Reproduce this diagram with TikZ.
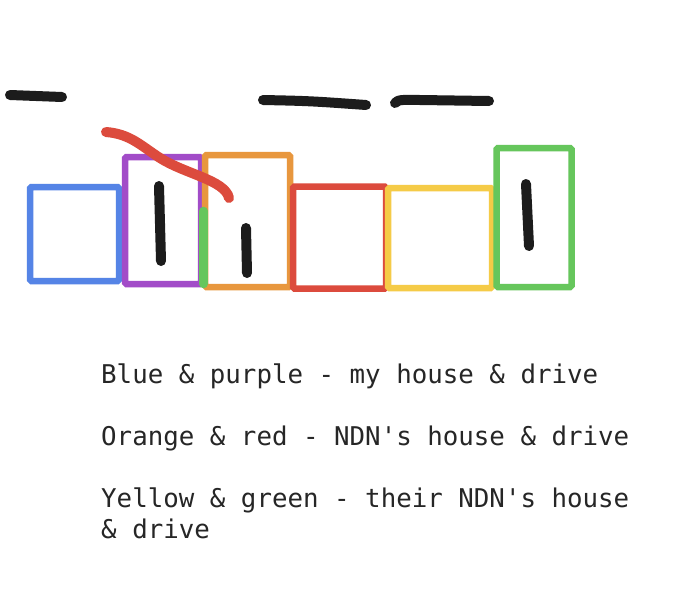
\documentclass[tikz,border=0pt]{standalone}
\usepackage{fontspec}
\setmonofont{DejaVu Sans Mono}
\definecolor{cblue}{HTML}{5584E6}
\definecolor{cpurple}{HTML}{A24CC8}
\definecolor{corange}{HTML}{E8973E}
\definecolor{cred}{HTML}{DC4B3D}
\definecolor{cyellow}{HTML}{F5CB47}
\definecolor{cgreen}{HTML}{66C65C}
\definecolor{cink}{HTML}{1C1C1C}
\tikzset{
  house/.style={draw=#1, line width=6.5pt, rounded corners=1.5pt, inner sep=0pt, outer sep=0pt, fill=none},
  ink/.style={draw=cink, line width=10pt, line cap=round, line join=round},
  redink/.style={draw=cred, line width=10pt, line cap=round, line join=round},
  greenink/.style={draw=cgreen, line width=8.5pt, line cap=round},
  legend/.style={anchor=base west, inner sep=0pt, font=\ttfamily\fontsize{25.8}{30}\selectfont, text=black!85}
}
\begin{document}
\begin{tikzpicture}[x=1pt,y=-1pt]
\useasboundingbox[fill=white] (0,0) rectangle (673,600);
% houses and drives
\node[house=cblue, minimum width=89pt, minimum height=94pt] (blue) at (74.5,234) {};
\node[house=cpurple, minimum width=76pt, minimum height=127pt] (purple) at (163,220.5) {};
\node[house=corange, minimum width=85pt, minimum height=132pt] (orange) at (247.5,221) {};
\node[house=cred, minimum width=93pt, minimum height=102pt] (red) at (339.5,237.5) {};
\node[house=cyellow, minimum width=104pt, minimum height=100pt] (yellow) at (440,238) {};
\node[house=cgreen, minimum width=75pt, minimum height=139pt] (green) at (534,217.5) {};
% green segment on orange's left edge
\coordinate (gs1) at (203.5,211);
\coordinate (gs2) at (203.5,284);
\draw[greenink] (gs1) -- (gs2);
% black marks
\coordinate (d1a) at (10,95); \coordinate (d1b) at (62,97);
\draw[ink] (d1a) -- (d1b);
\coordinate (d2a) at (263,100); \coordinate (d2b) at (366,105);
\draw[ink] (d2a) .. controls (310,101) .. (d2b);
\coordinate (d3a) at (395,103); \coordinate (d3b) at (489,101);
\draw[ink] (d3a) .. controls (398,99) and (405,100) .. (420,100) -- (d3b);
\coordinate (p1) at (159,186); \coordinate (p2) at (161,261);
\draw[ink] (p1) -- (p2);
\coordinate (o1) at (246,228); \coordinate (o2) at (247,273);
\draw[ink] (o1) -- (o2);
\coordinate (g1) at (526,184); \coordinate (g2) at (529,246);
\draw[ink] (g1) -- (g2);
% red curve
\coordinate (r1) at (106,132); \coordinate (r2) at (229,198);
\draw[redink] (r1) .. controls (130,134) and (140,145) .. (160,158)
   .. controls (185,174) and (225,180) .. (r2);
% legend
\node[legend] (l1) at (101,383) {Blue \& purple - my house \& drive};
\node[legend] (l2) at (101,445) {Orange \& red - NDN's house \& drive};
\node[legend] (l3) at (101,507) {Yellow \& green - their NDN's house};
\node[legend] (l4) at (101,538) {\& drive};
\end{tikzpicture}
\end{document}
